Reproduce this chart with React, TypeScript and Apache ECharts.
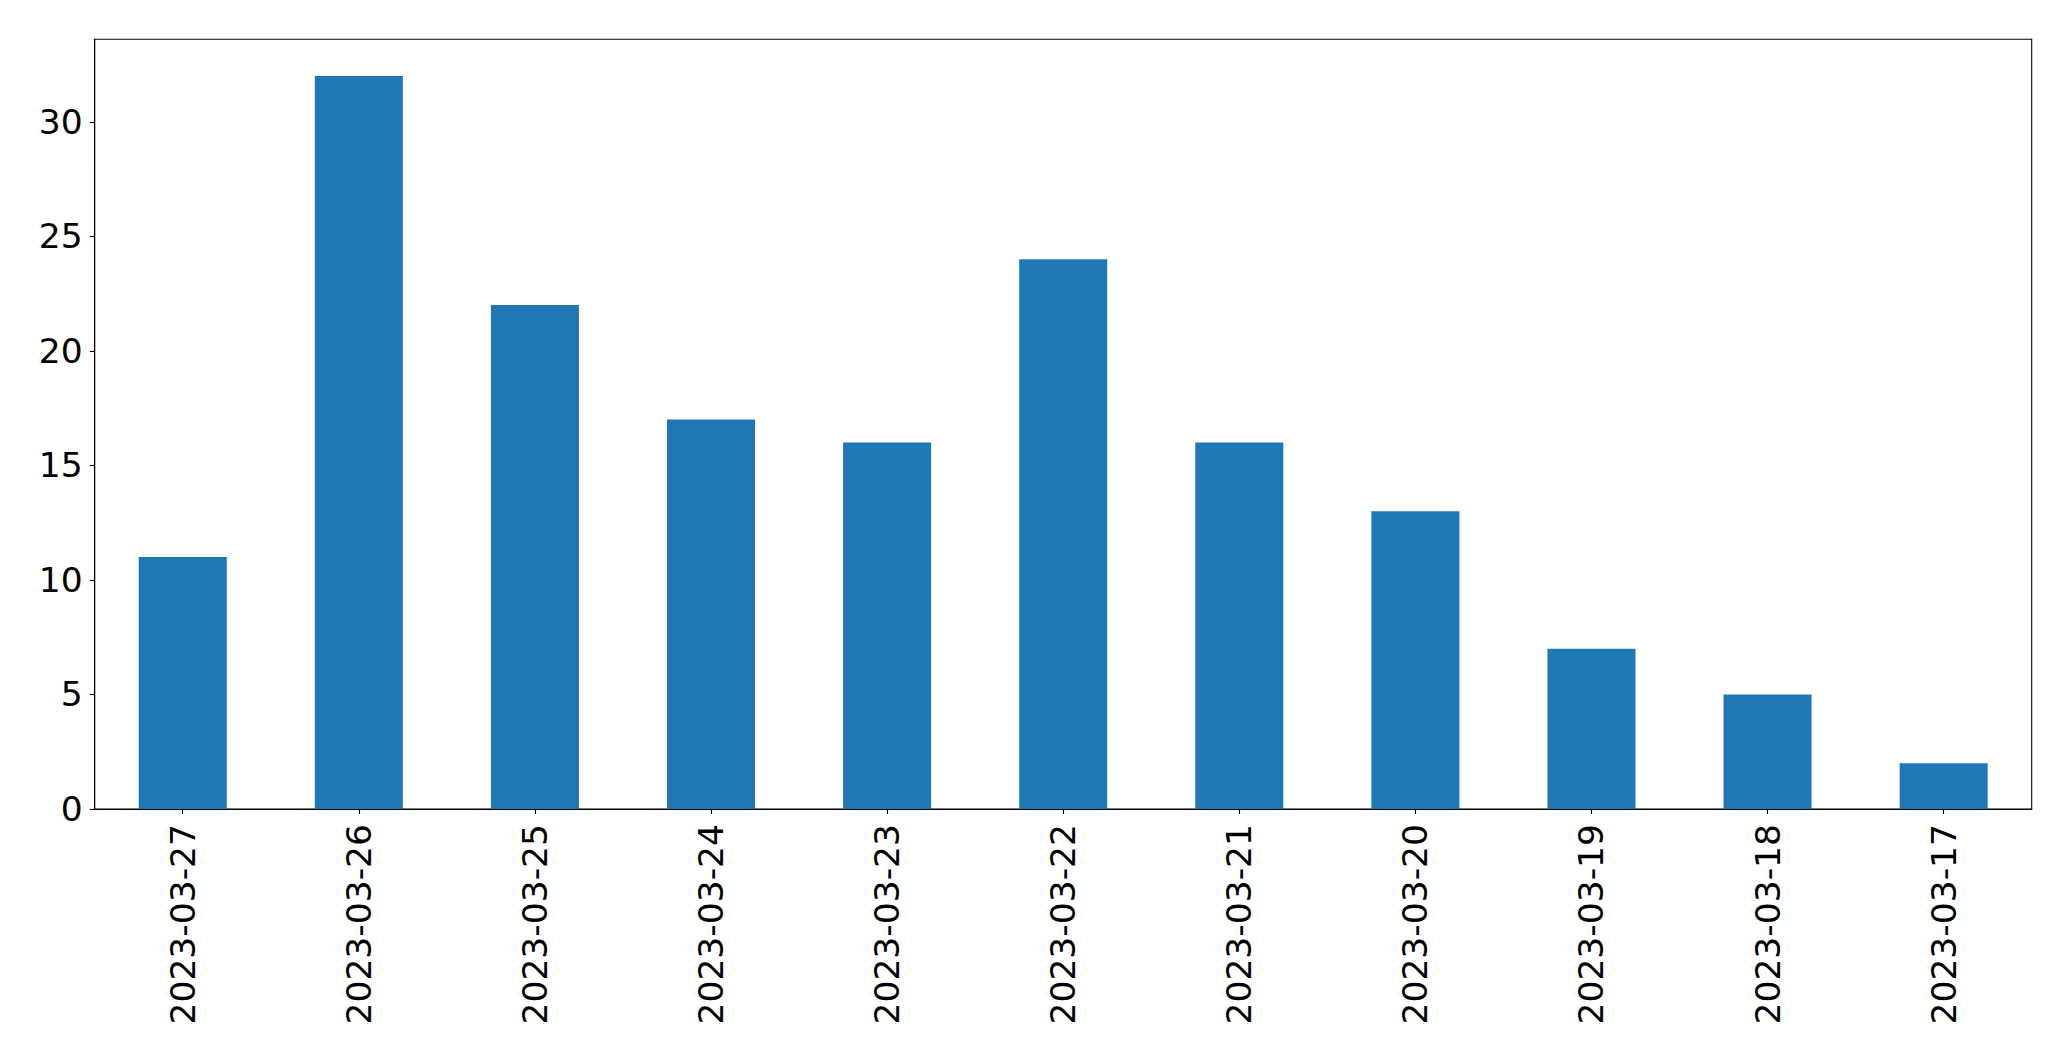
import React, { useEffect, useRef } from "react";
import * as echarts from "echarts";

const categories = [
  "2023-03-27", "2023-03-26", "2023-03-25", "2023-03-24", "2023-03-23", "2023-03-22",
  "2023-03-21", "2023-03-20", "2023-03-19", "2023-03-18", "2023-03-17",
];
const values = [11, 32, 22, 17, 16, 24, 16, 13, 7, 5, 2];
const yTicks = [0, 5, 10, 15, 20, 25, 30];
const yMax = 33.6;

export default function App() {
  const ref = useRef<HTMLDivElement>(null);
  useEffect(() => {
    if (!ref.current) return;
    const chart = echarts.init(ref.current, null, { renderer: "svg" });
    const font = { fontFamily: "DejaVu Sans", fontSize: 34.5, color: "#000" };
    chart.setOption({
      animation: false,
      backgroundColor: "#fff",
      grid: {
        left: 94.7,
        right: 39.3,
        top: 39.3,
        bottom: 252,
        show: true,
        borderColor: "#000",
        borderWidth: 1.1,
        containLabel: false,
      },
      xAxis: {
        type: "category",
        data: categories,
        boundaryGap: true,
        axisLine: { show: true, lineStyle: { color: "#000", width: 1.1 } },
        axisTick: { show: true, alignWithLabel: true, length: 5, lineStyle: { color: "#000", width: 1.1 } },
        axisLabel: { ...font, rotate: 90, margin: 15, interval: 0 },
        splitLine: { show: false },
      },
      yAxis: {
        type: "value",
        min: 0,
        max: yMax,
        interval: 5,
        axisLine: { show: true, lineStyle: { color: "#000", width: 1.1 } },
        axisTick: { show: true, length: 5, customValues: yTicks, lineStyle: { color: "#000", width: 1.1 } },
        axisLabel: { ...font, margin: 12, customValues: yTicks },
        splitLine: { show: false },
      },
      series: [
        {
          type: "bar",
          data: values,
          barWidth: "50%",
          itemStyle: { color: "#1f77b4" },
        },
      ],
    });
    return () => chart.dispose();
  }, []);
  return (
    <div
      ref={ref}
      style={{ position: "fixed", left: 0, top: 0, width: 2071, height: 1061 }}
    />
  );
}
